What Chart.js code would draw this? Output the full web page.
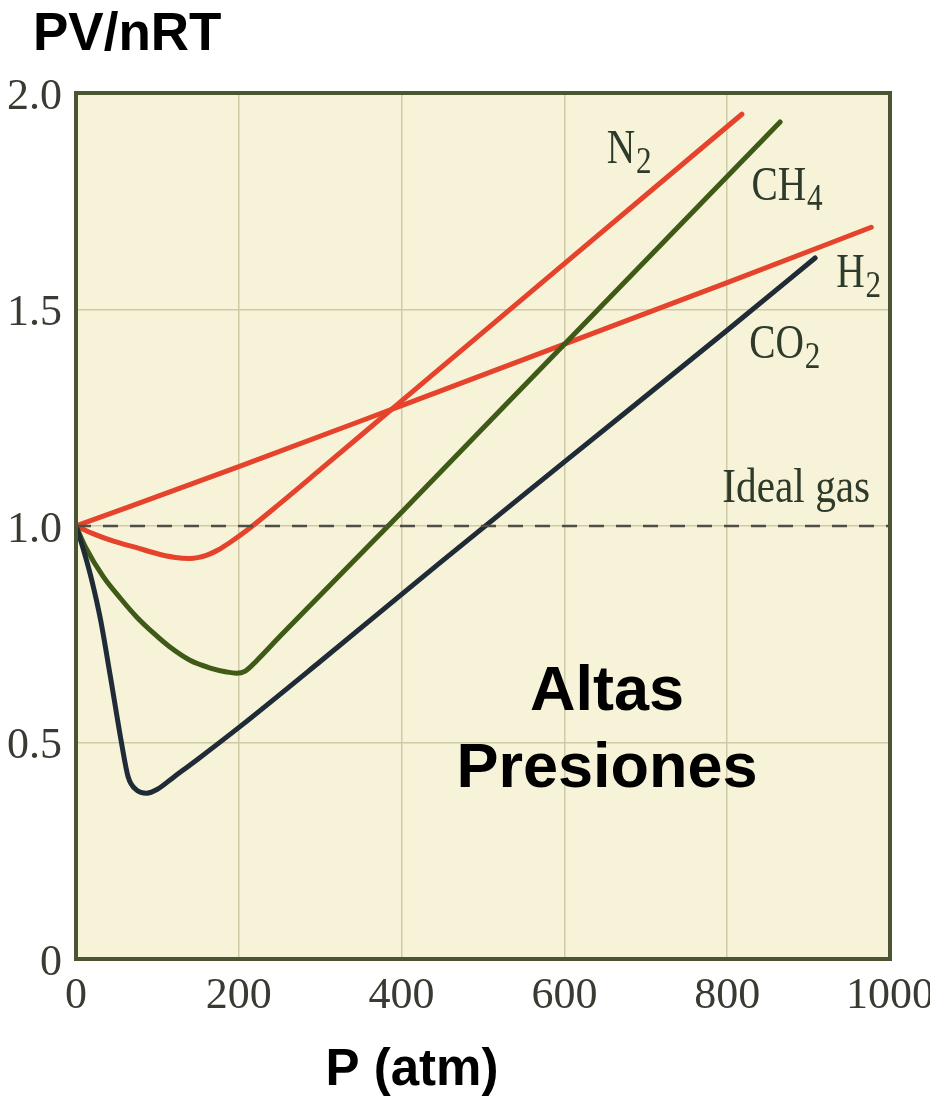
<!DOCTYPE html>
<html lang="es">
<head>
<meta charset="UTF-8">
<title>PV/nRT vs P</title>
<script src="https://cdn.jsdelivr.net/npm/chart.js"></script>
<style>
  html, body { margin: 0; padding: 0; background: #fff; }
  #wrap { width: 930px; height: 1096px; }
</style>
</head>
<body>
<div id="wrap"><canvas id="chart" width="930" height="1096"></canvas></div>
<script>
// presion (atm) y PV/nRT
const h2P  = [0, 200, 400, 600, 800, 977];
const h2Z  = [1.0, 1.137, 1.278, 1.42, 1.562, 1.69];

const n2P  = [0, 20, 46, 74.5, 100, 120, 140, 160, 175, 190, 210, 250, 300, 400, 600, 818];
const n2Z  = [1.0, 0.983, 0.965, 0.95, 0.936, 0.928, 0.925, 0.932, 0.945, 0.963, 0.99, 1.051, 1.13, 1.289, 1.606, 1.951];

const ch4P = [0, 12, 33.5, 55, 74.5, 95, 115, 140, 165, 185, 197, 208, 222, 250, 300, 400, 600, 865];
const ch4Z = [1.0, 0.95, 0.883, 0.832, 0.79, 0.753, 0.721, 0.69, 0.672, 0.663, 0.66, 0.665, 0.689, 0.744, 0.84, 1.032, 1.42, 1.933];

const co2P = [0, 10, 20, 30, 42, 56, 64, 74.5, 87, 100, 120, 150, 201, 300, 447, 600, 800, 908];
const co2Z = [1.0, 0.94, 0.87, 0.785, 0.655, 0.498, 0.421, 0.39, 0.383, 0.392, 0.42, 0.462, 0.536, 0.687, 0.915, 1.148, 1.452, 1.619];

const idealP = [0, 1000];
const idealZ = [1.0, 1.0];

const xTicks = [0, 200, 400, 600, 800, 1000];
const yTicks = [0, 0.5, 1.0, 1.5, 2.0];

const pts = (xs, ys) => xs.map((x, i) => ({ x: x, y: ys[i] }));

const serif = "'Liberation Serif', 'Times New Roman', serif";
const sans = "'Liberation Sans', Arial, sans-serif";

// fondo crema, marco y textos
const figurePlugin = {
  id: 'figure',
  beforeDraw(chart) {
    const { ctx, chartArea: a } = chart;
    ctx.save();
    ctx.fillStyle = '#f6f3d8';
    ctx.fillRect(a.left, a.top, a.right - a.left, a.bottom - a.top);
    ctx.restore();
  },
  afterDatasetsDraw(chart) {
    const { ctx, chartArea: a } = chart;
    const xs = chart.scales.x, ys = chart.scales.y;
    ctx.save();
    ctx.strokeStyle = '#4a5632';
    ctx.lineWidth = 4;
    ctx.strokeRect(a.left, a.top, a.right - a.left, a.bottom - a.top);

    // etiquetas de las curvas (tipografia condensada como en el libro)
    const chem = (p, z, main, sub, sx) => {
      ctx.save();
      ctx.translate(xs.getPixelForValue(p), ys.getPixelForValue(z));
      ctx.scale(sx || 0.82, 1);
      ctx.fillStyle = '#2e3a2a';
      ctx.textBaseline = 'alphabetic';
      ctx.textAlign = 'left';
      ctx.font = '48px ' + serif;
      ctx.fillText(main, 0, 0);
      if (sub) {
        const w = ctx.measureText(main).width;
        ctx.font = '38px ' + serif;
        ctx.fillText(sub, w + 1, 10);
      }
      ctx.restore();
    };
    chem(652, 1.838, 'N', '2');
    chem(830, 1.753, 'CH', '4');
    chem(934, 1.552, 'H', '2');
    chem(827, 1.388, 'CO', '2');
    chem(794, 1.055, 'Ideal gas', null, 0.86);

    ctx.fillStyle = '#000';
    ctx.textAlign = 'center';
    ctx.textBaseline = 'alphabetic';
    ctx.font = 'bold 63px ' + sans;
    ctx.fillText('Altas', 607, 710);
    ctx.fillText('Presiones', 607, 787);
    ctx.restore();
  },
  afterDraw(chart) {
    const { ctx } = chart;
    ctx.save();
    ctx.fillStyle = '#000';
    ctx.textBaseline = 'alphabetic';
    ctx.font = 'bold 53px ' + sans;
    ctx.textAlign = 'left';
    ctx.fillText('PV/nRT', 33, 50);
    ctx.font = 'bold 51px ' + sans;
    ctx.textAlign = 'center';
    ctx.fillText('P (atm)', 412, 1085);
    ctx.restore();
  }
};

const line = (label, data, color) => ({
  label: label,
  data: data,
  borderColor: color,
  borderWidth: 5,
  pointRadius: 0,
  fill: false,
  cubicInterpolationMode: 'monotone',
  borderCapStyle: 'round',
  borderJoinStyle: 'round'
});

new Chart(document.getElementById('chart'), {
  type: 'line',
  data: {
    datasets: [
      {
        label: 'Ideal gas',
        data: pts(idealP, idealZ),
        borderColor: '#4e4e44',
        borderWidth: 2.5,
        borderDash: [15, 12],
        pointRadius: 0,
        fill: false
      },
      line('CO2', pts(co2P, co2Z), '#1f2b36'),
      line('CH4', pts(ch4P, ch4Z), '#3f5a16'),
      line('H2', pts(h2P, h2Z), '#e5432b'),
      line('N2', pts(n2P, n2Z), '#e5432b')
    ]
  },
  plugins: [figurePlugin],
  options: {
    responsive: false,
    animation: false,
    events: [],
    layout: { padding: { left: 0, top: 93, right: 40, bottom: 0 } },
    plugins: {
      legend: { display: false },
      tooltip: { enabled: false },
      title: { display: false }
    },
    scales: {
      x: {
        type: 'linear',
        min: 0,
        max: 1000,
        afterBuildTicks: s => { s.ticks = xTicks.map(v => ({ value: v })); },
        afterFit: s => { s.height = 137; s.paddingLeft = 0; s.paddingRight = 0; },
        grid: { color: '#cfcaa6', lineWidth: 1.5, drawTicks: false },
        border: { display: false },
        ticks: {
          padding: 11,
          color: '#3a3a32',
          font: { family: serif, size: 44 },
          callback: v => String(v),
          maxRotation: 0,
          autoSkip: false
        }
      },
      y: {
        type: 'linear',
        min: 0,
        max: 2,
        afterBuildTicks: s => { s.ticks = yTicks.map(v => ({ value: v })); },
        afterFit: s => { s.width = 76; },
        grid: { color: '#cfcaa6', lineWidth: 1.5, drawTicks: false },
        border: { display: false },
        ticks: {
          padding: 14,
          labelOffset: 4,
          color: '#3a3a32',
          font: { family: serif, size: 44 },
          callback: v => (v === 0 ? '0' : v.toFixed(1))
        }
      }
    }
  }
});
</script>
</body>
</html>
